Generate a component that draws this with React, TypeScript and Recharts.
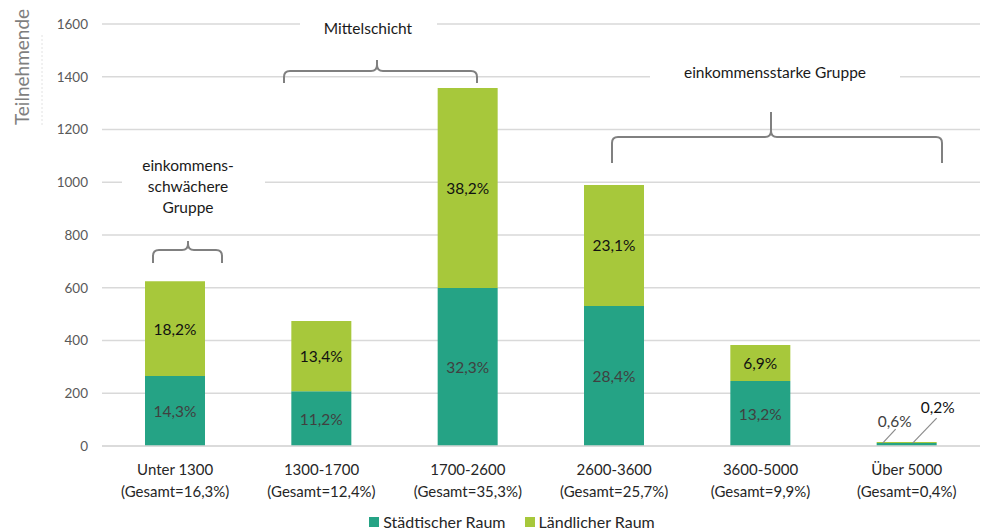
import { BarChart, Bar, XAxis, YAxis, CartesianGrid, Legend, LabelList, Customized } from 'recharts';

const categories = ['Unter 1300', '1300-1700', '1700-2600', '2600-3600', '3600-5000', 'Über 5000'];
const totalShares = ['(Gesamt=16,3%)', '(Gesamt=12,4%)', '(Gesamt=35,3%)', '(Gesamt=25,7%)', '(Gesamt=9,9%)', '(Gesamt=0,4%)'];
const urbanCounts = [265, 208, 599, 531, 246, 11];
const ruralCounts = [360, 266, 758, 459, 137, 4];
const urbanShares = ['14,3%', '11,2%', '32,3%', '28,4%', '13,2%', '0,6%'];
const ruralShares = ['18,2%', '13,4%', '38,2%', '23,1%', '6,9%', '0,2%'];
const yTicks = [0, 200, 400, 600, 800, 1000, 1200, 1400, 1600];

const URBAN = '#25a385';
const RURAL = '#a7c83b';
const FONT = 'Lato, "Open Sans", sans-serif';

const data = categories.map((name, i) => ({
  name,
  total: totalShares[i],
  urban: urbanCounts[i],
  rural: ruralCounts[i],
  urbanLabel: urbanShares[i],
  ruralLabel: ruralShares[i],
}));

function CategoryTick(props: any) {
  const { x, y, index } = props;
  return (
    <g>
      <text x={x} y={y + 27} textAnchor="middle" fontSize={15} fill="#262626" fontFamily={FONT}>
        {categories[index]}
      </text>
      <text x={x} y={y + 49} textAnchor="middle" fontSize={15} fill="#262626" fontFamily={FONT}>
        {totalShares[index]}
      </text>
    </g>
  );
}

// segment labels sit in the middle of each stack piece; the tiny last bar gets leader lines
function makeSegmentLabel(color: string, isTop: boolean) {
  return (props: any) => {
    const { x, y, width, height, value, index } = props;
    if (index === categories.length - 1) {
      const cx = x + width / 2;
      if (isTop) {
        return (
          <g>
            <line x1={cx + 6} y1={y + 1} x2={cx + 30} y2={y - 24} stroke="#8c8c8c" strokeWidth={1.2} />
            <text x={cx + 31} y={y - 29} textAnchor="middle" fontSize={15.5} fill={color} fontFamily={FONT}>
              {value}
            </text>
          </g>
        );
      }
      return (
        <g>
          <line x1={cx - 24} y1={y} x2={cx - 11} y2={y - 14} stroke="#8c8c8c" strokeWidth={1.2} />
          <text x={cx - 12} y={y - 16} textAnchor="middle" fontSize={15.5} fill={color} fontFamily={FONT}>
            {value}
          </text>
        </g>
      );
    }
    return (
      <text
        x={x + width / 2}
        y={y + height / 2}
        textAnchor="middle"
        dominantBaseline="central"
        fontSize={15.5}
        fill={color}
        fontFamily={FONT}
      >
        {value}
      </text>
    );
  };
}

function bracePath(x1: number, x2: number, xp: number, yLine: number, yEnd: number, yPeak: number) {
  const r = 6;
  return [
    `M ${x1} ${yEnd}`,
    `L ${x1} ${yLine + r}`,
    `Q ${x1} ${yLine} ${x1 + r} ${yLine}`,
    `L ${xp - r} ${yLine}`,
    `Q ${xp} ${yLine} ${xp} ${yLine - r}`,
    `L ${xp} ${yPeak}`,
    `L ${xp} ${yLine - r}`,
    `Q ${xp} ${yLine} ${xp + r} ${yLine}`,
    `L ${x2 - r} ${yLine}`,
    `Q ${x2} ${yLine} ${x2} ${yLine + r}`,
    `L ${x2} ${yEnd}`,
  ].join(' ');
}

const groupNotes = [
  { lines: ['einkommens-', 'schwächere', 'Gruppe'], cx: 188, y: 165, box: [122, 152, 143, 68], brace: [153, 222, 188, 250, 263, 241] },
  { lines: ['Mittelschicht'], cx: 368, y: 28, box: [300, 16, 137, 22], brace: [284, 477, 377, 71, 83, 60] },
  { lines: ['einkommensstarke Gruppe'], cx: 775, y: 72, box: [650, 60, 250, 24], brace: [612, 942, 771, 137, 163, 112] },
];

function Annotations() {
  return (
    <g>
      <text
        transform="translate(29, 67) rotate(-90)"
        textAnchor="middle"
        fontSize={19}
        fill="#7f7f7f"
        fontFamily={FONT}
      >
        Teilnehmende
      </text>
      <line x1={42} y1={35} x2={42} y2={125} stroke="#e2e2e2" strokeDasharray="2 2" />
      {groupNotes.map((n, i) => {
        const [bx, by, bw, bh] = n.box;
        const [x1, x2, xp, yl, ye, yp] = n.brace;
        return (
          <g key={i}>
            <rect x={bx} y={by} width={bw} height={bh} fill="#fff" />
            {n.lines.map((t, j) => (
              <text
                key={j}
                x={n.cx}
                y={n.y + j * 21}
                textAnchor="middle"
                dominantBaseline="central"
                fontSize={15.5}
                fill="#1a1a1a"
                fontFamily={FONT}
              >
                {t}
              </text>
            ))}
            <path d={bracePath(x1, x2, xp, yl, ye, yp)} fill="none" stroke="#808080" strokeWidth={2} />
          </g>
        );
      })}
    </g>
  );
}

function LegendContent() {
  const items = [
    { label: 'Städtischer Raum', color: URBAN },
    { label: 'Ländlicher Raum', color: RURAL },
  ];
  return (
    <div
      style={{
        height: 28,
        display: 'flex',
        justifyContent: 'center',
        alignItems: 'flex-end',
        gap: 19,
        paddingLeft: 44,
        boxSizing: 'border-box',
        fontFamily: FONT,
        fontSize: 16,
        color: '#262626',
      }}
    >
      {items.map((it) => (
        <div key={it.label} style={{ display: 'flex', alignItems: 'center', gap: 4, lineHeight: '16px' }}>
          <span style={{ width: 10, height: 10, background: it.color, display: 'inline-block' }} />
          <span>{it.label}</span>
        </div>
      ))}
    </div>
  );
}

export default function App() {
  return (
    <div style={{ position: 'absolute', left: 0, top: 0, width: 981, height: 530, background: '#fff' }}>
      <BarChart
        width={981}
        height={530}
        data={data}
        margin={{ top: 24, right: 1, bottom: 0, left: 0 }}
        barSize={60}
      >
        <CartesianGrid horizontal vertical={false} stroke="#d9d9d9" strokeWidth={1.5} />
        <Customized component={<Annotations />} />
        <XAxis
          dataKey="name"
          height={56}
          tickLine={false}
          axisLine={{ stroke: '#d9d9d9', strokeWidth: 1.5 }}
          tickSize={0}
          tick={<CategoryTick />}
          interval={0}
        />
        <YAxis
          width={102}
          domain={[0, 1600]}
          ticks={yTicks}
          tickLine={false}
          axisLine={false}
          tickSize={0}
          tickMargin={14}
          tick={{ fontSize: 13.5, fill: '#595959', fontFamily: FONT }}
        />
        <Legend verticalAlign="bottom" height={28} content={<LegendContent />} />
        <Bar dataKey="urban" stackId="a" fill={URBAN} isAnimationActive={false}>
          <LabelList dataKey="urbanLabel" content={makeSegmentLabel('#404040', false)} />
        </Bar>
        <Bar dataKey="rural" stackId="a" fill={RURAL} isAnimationActive={false}>
          <LabelList dataKey="ruralLabel" content={makeSegmentLabel('#111111', true)} />
        </Bar>
      </BarChart>
    </div>
  );
}
